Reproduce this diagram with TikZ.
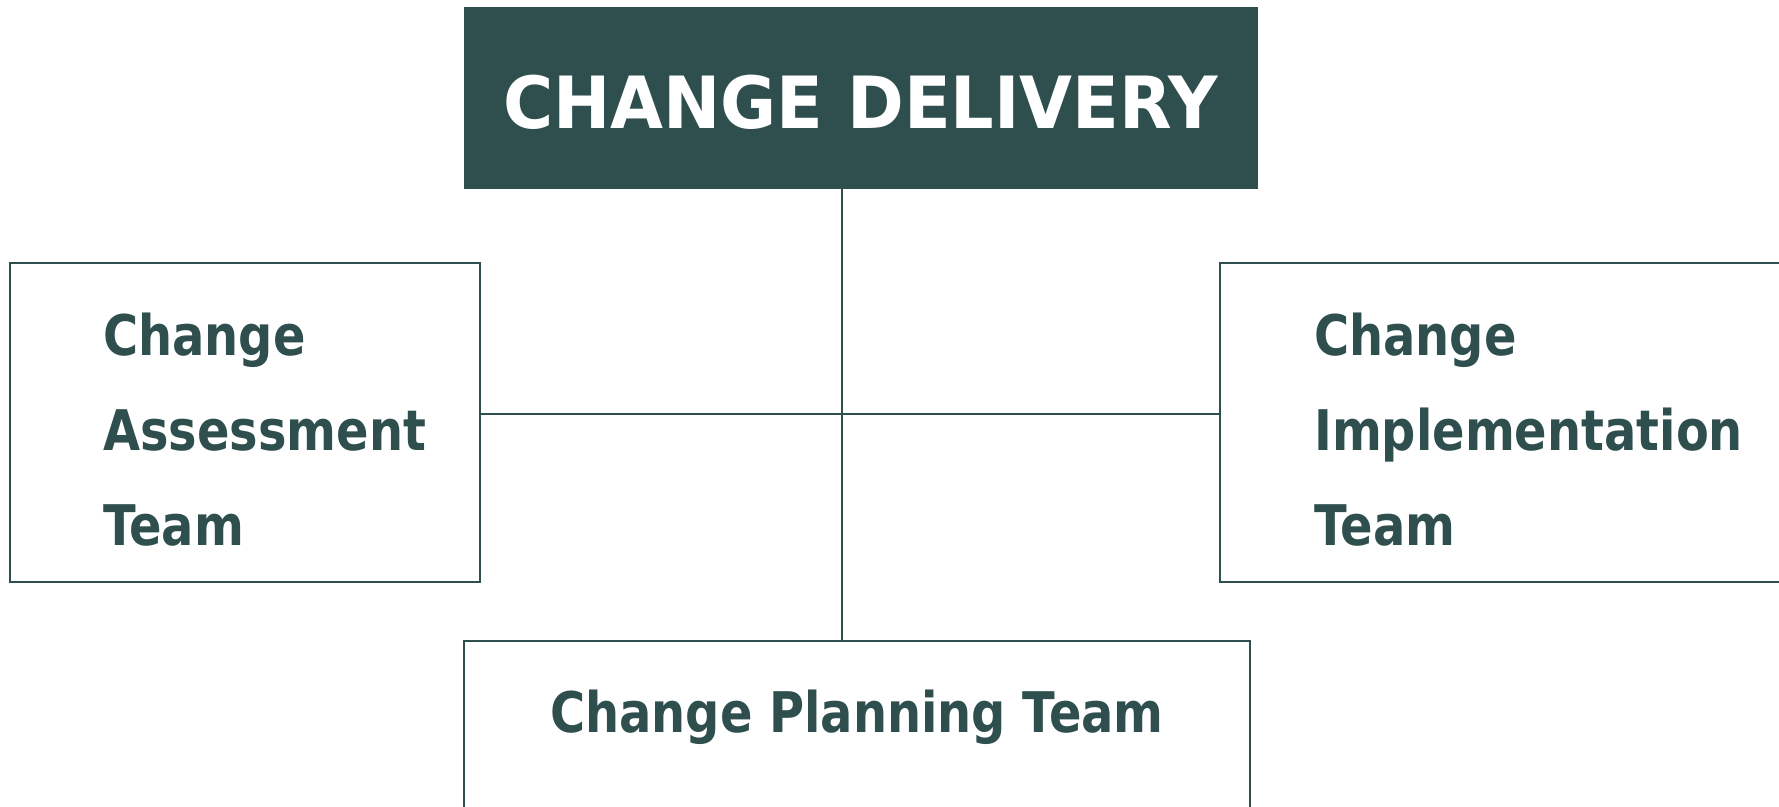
\documentclass[tikz,border=0pt]{standalone}
\usepackage{fontspec}
\setmainfont{DejaVu Sans}
\newfontfamily\headfont[FakeStretch=0.95]{DejaVu Sans}
\newfontfamily\teamfont[FakeStretch=0.855]{DejaVu Sans}
\usetikzlibrary{positioning}
\definecolor{slate}{HTML}{2F4F4F}

\begin{document}
\begin{tikzpicture}[x=1pt, y=-1pt,
    headbox/.style={fill=slate, draw=slate, text=white, inner sep=0pt,
      minimum width=793pt, minimum height=181pt, text height=61pt, text depth=0pt,
      font=\headfont\fontsize{72}{88}\selectfont\bfseries},
    teambox/.style={draw=slate, line width=1.5pt, inner sep=0pt},
    teamtext/.style={text=slate, align=left, inner sep=0pt,
      font=\teamfont\fontsize{56}{95}\selectfont\bfseries},
    link/.style={draw=slate, line width=1.2pt}]
      \clip (0, 0) rectangle (1779, 806);

      % boxes
      \node[headbox] (delivery) at (860.5, 97.5) {CHANGE DELIVERY};
      \node[teambox, minimum width=470pt, minimum height=319pt] (assess) at (245, 422.5) {};
      \node[teambox, minimum width=600pt, minimum height=319pt] (implement) at (1520, 422.5) {};
      \node[teambox, minimum width=786pt, minimum height=300pt] (planning) at (857, 791) {};

      % texts
      \node[teamtext, anchor=north west] (assesstxt) at (103, 313) {Change\\Assessment\\Team};
      \node[teamtext, anchor=north west] (implementtxt) at (1314, 313) {Change\\Implementation\\Team};
      \node[teamtext, anchor=base] (planningtxt) at (857, 732) {Change Planning Team};

      % connectors
      \coordinate (hub) at (842, 414);
      \draw[link] (delivery.south -| hub) -- (planning.north -| hub);
      \draw[link] (assess.east |- hub) -- (implement.west |- hub);
\end{tikzpicture}
\end{document}
